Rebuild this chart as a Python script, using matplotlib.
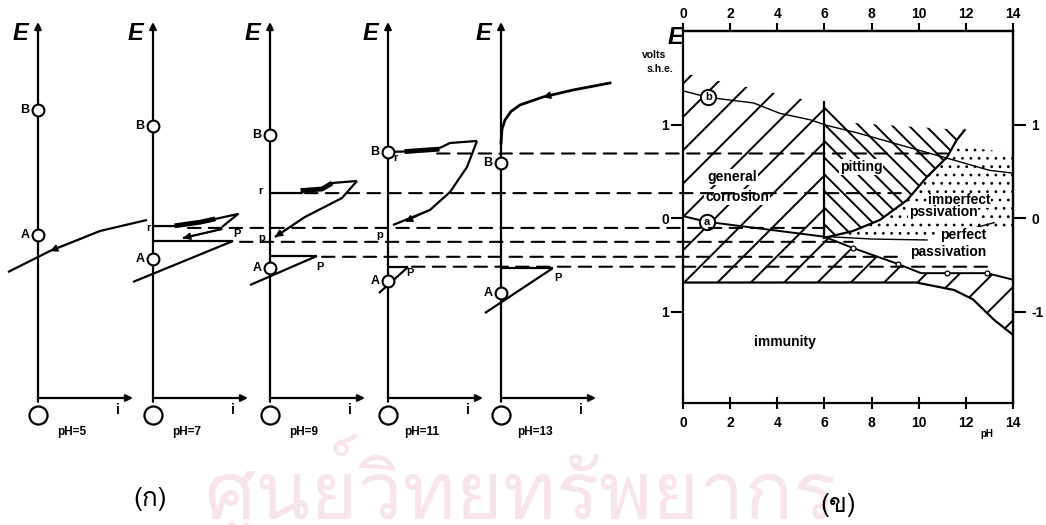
import matplotlib
matplotlib.use('Agg')
import matplotlib.pyplot as plt
from matplotlib.patches import Polygon, ConnectionPatch
from matplotlib import font_manager
from matplotlib.ft2font import FT2Font

W, H = 1046, 525
plt.rcParams['font.family'] = ['Liberation Sans', 'DejaVu Sans']
plt.rcParams['font.weight'] = 'bold'
plt.rcParams['hatch.linewidth'] = 1.4


def find_thai_font():
    for fe in font_manager.fontManager.ttflist:
        try:
            if 0x0E01 in FT2Font(fe.fname).get_charmap():
                return fe.name
        except Exception:
            pass
    return None


# ---------------- data: polarization curves (i arbitrary units, E volts) ----
ph_panels = [5, 7, 9, 11, 13]
E_B = [1.155, 0.984, 0.888, 0.706, 0.588]
E_A = [-0.182, -0.439, -0.535, -0.674, -0.802]

c5_i = [-0.30, 0.0, 0.12, 0.62, 1.09]
c5_E = [-0.578, -0.417, -0.353, -0.139, -0.021]

c7_cath_i = [-0.20, 0.80]
c7_cath_E = [-0.684, -0.246]
c7_pass_i = [0.0, 0.80]
c7_pass_E = [-0.246, -0.246]
c7_top_i = [0.0, 0.24, 0.47, 0.62, 0.85, 0.69]
c7_top_E = [-0.086, -0.086, -0.043, -0.011, 0.043, -0.096]
c7_pit_i = [0.24, 0.47, 0.60]
c7_pit_E = [-0.080, -0.045, -0.015]
c7_back_i = [0.69, 0.30]
c7_back_E = [-0.118, -0.214]

c9_cath_i = [-0.20, 0.47]
c9_cath_E = [-0.717, -0.406]
c9_pass_i = [0.0, 0.47]
c9_pass_E = [-0.406, -0.406]
c9_top_i = [0.0, 0.32, 0.33, 0.52, 0.62, 0.87]
c9_top_E = [0.267, 0.267, 0.295, 0.31, 0.374, 0.396]
c9_pit_i = [0.33, 0.52, 0.60]
c9_pit_E = [0.295, 0.31, 0.36]
c9_back_i = [0.87, 0.72, 0.35, 0.05]
c9_back_E = [0.396, 0.214, 0.011, -0.203]

c11_cath_i = [-0.09, 0.20]
c11_cath_E = [-0.802, -0.524]
c11_pass_i = [0.0, 0.20]
c11_pass_E = [-0.524, -0.524]
c11_top_i = [0.0, 0.19, 0.49, 0.62, 0.89]
c11_top_E = [0.706, 0.712, 0.735, 0.802, 0.824]
c11_pit_i = [0.19, 0.49]
c11_pit_E = [0.712, 0.735]
c11_back_i = [0.89, 0.79, 0.62, 0.42, 0.05]
c11_back_E = [0.824, 0.545, 0.278, 0.086, -0.075]

c13_cath_i = [-0.16, 0.52]
c13_cath_E = [-1.016, -0.535]
c13_pass_i = [0.0, 0.52]
c13_pass_E = [-0.535, -0.535]
c13_top_i = [0.0, 0.01, 0.04, 0.10, 0.19, 0.42, 0.72, 1.09]
c13_top_E = [0.80, 0.95, 1.048, 1.14, 1.209, 1.294, 1.369, 1.444]

# projection lines: potential, panel index, start i, end pH
dash_E = [0.69, 0.266, -0.106, -0.255, -0.415, -0.521]
dash_panel = [3, 2, 1, 1, 2, 3]
dash_i0 = [0.49, 0.35, 0.35, 0.87, 0.52, 0.24]
dash_ph1 = [11.2, 9.4, 6.0, 7.2, 9.1, 13.0]

# ---------------- data: Pourbaix-type diagram (pH, E) ----------------------
corr_ph = [0, 6, 6, 7.2, 9.1, 10.1, 12.9, 14, 14, 13.2, 12.3, 11.5, 9.9, 0]
corr_E = [1.55, 1.22, -0.20, -0.32, -0.49, -0.59, -0.59, -0.66, -1.25,
          -1.09, -0.87, -0.77, -0.69, -0.69]
pit_curve_ph = [6.0, 6.2, 7.2, 8.36, 9.5, 10.35, 11.2, 11.6, 11.95]
pit_curve_E = [-0.21, -0.20, -0.14, -0.02, 0.19, 0.44, 0.65, 0.83, 0.94]
pit_top_ph = [6.0, 7.0]
pit_top_E = [1.24, 1.02]
dot_edge_ph = [12.3, 14, 14, 12.5, 10.3, 7.5]
dot_edge_E = [0.75, 0.69, -0.12, -0.17, -0.235, -0.22]
low_ph = [0, 1.0, 6.0, 7.2, 9.1, 10.1, 11.2, 12.9, 14]
low_E = [0.02, -0.04, -0.20, -0.32, -0.49, -0.59, -0.59, -0.59, -0.66]
bot_ph = [0, 9.9, 11.5, 12.3, 13.2, 14]
bot_E = [-0.69, -0.69, -0.77, -0.87, -1.09, -1.25]
line_b_ph = [0, 1.07, 3.0, 4.1, 5.4, 6.1, 7.4, 11.2, 13.0, 14]
line_b_E = [1.36, 1.29, 1.23, 1.12, 1.05, 0.99, 0.91, 0.64, 0.51, 0.48]
pts_ph = [7.2, 9.1, 11.2, 12.9]
pts_E = [-0.32, -0.49, -0.59, -0.59]
perf_ph = [6.2, 8.0, 10.35]
perf_E = [-0.20, -0.225, -0.235]

region_labels = ['general', 'corrosion', 'pitting', 'imperfect', 'pssivation',
                 'perfect', 'passivation', 'immunity']
region_ph = [2.08, 2.29, 7.55, 11.71, 11.03, 11.88, 11.24, 4.33]
region_E = [0.44, 0.225, 0.545, 0.19, 0.064, -0.18, -0.36, -1.33]

# ---------------- layout ----------------------------------------------------
E0_PX, PX_PER_V = 218, 93.5
axis_px = [38, 153, 270, 388, 501]


def rect(x0, y0, x1, y1):
    return [x0 / W, 1 - y1 / H, (x1 - x0) / W, (y1 - y0) / H]


fig = plt.figure(figsize=(W / 100, H / 100), dpi=100)
fig.patch.set_facecolor('white')

thai = find_thai_font()
if thai:
    fig.text(520 / W, 1 - 519 / H, 'ศูนย์วิทยทรัพยากร', family=[thai],
             fontsize=58, color='#f8e4eb', ha='center', va='baseline',
             zorder=-5, weight='normal')

k = dict(color='k', lw=1.6, solid_capstyle='butt')
lab = dict(fontsize=8, weight='bold', ha='center', va='center')


def arrowhead(ax, x0, y0, x1, y1):
    ax.annotate('', xy=(x1, y1), xytext=(x0, y0),
                arrowprops=dict(arrowstyle='-|>', color='k', lw=1,
                                mutation_scale=11, shrinkA=0, shrinkB=0))


panels = []
for n, (ph, ax_x) in enumerate(zip(ph_panels, axis_px)):
    ax = fig.add_axes(rect(ax_x - 40, 0, ax_x + 115, H))
    ax.set_xlim(-0.40, 1.15)
    ax.set_ylim((E0_PX - H) / PX_PER_V, E0_PX / PX_PER_V)
    ax.axis('off')
    ax.patch.set_alpha(0)
    e_axis = (E0_PX - 398) / PX_PER_V
    ax.annotate('', xy=(0, (E0_PX - 22) / PX_PER_V), xytext=(0, e_axis - 0.04),
                arrowprops=dict(arrowstyle='-|>', color='k', lw=1.6,
                                mutation_scale=10, shrinkA=0, shrinkB=0))
    ax.annotate('', xy=(0.95, e_axis), xytext=(0, e_axis),
                arrowprops=dict(arrowstyle='-|>', color='k', lw=1.6,
                                mutation_scale=10, shrinkA=0, shrinkB=0))
    ax.plot([0], [(E0_PX - 415) / PX_PER_V], 'o', ms=13, mfc='white',
            mec='k', mew=1.6, zorder=5)
    ax.text(0.80, (E0_PX - 410) / PX_PER_V, 'i', fontsize=10, weight='bold',
            ha='center', va='center')
    ax.text(0.34, (E0_PX - 432) / PX_PER_V, 'pH=%d' % ph, fontsize=8.5,
            weight='bold', ha='center', va='center')
    ax.text(-0.18, (E0_PX - 33) / PX_PER_V, 'E', fontsize=17, weight='bold',
            style='italic', ha='center', va='center')
    ax.plot([0], [E_B[n]], 'o', ms=8.5, mfc='white', mec='k', mew=1.5, zorder=6)
    ax.plot([0], [E_A[n]], 'o', ms=8.5, mfc='white', mec='k', mew=1.5, zorder=6)
    ax.text(-0.13, E_B[n], 'B', fontsize=9, weight='bold', ha='center', va='center')
    ax.text(-0.13, E_A[n], 'A', fontsize=9, weight='bold', ha='center', va='center')
    panels.append(ax)

# pH 5
ax = panels[0]
ax.plot(c5_i, c5_E, **k)
arrowhead(ax, c5_i[3], c5_E[3], c5_i[2], c5_E[2])

# pH 7
ax = panels[1]
ax.plot(c7_cath_i, c7_cath_E, **k)
ax.plot(c7_pass_i, c7_pass_E, **k)
ax.plot(c7_top_i, c7_top_E, **k)
ax.plot(c7_pit_i, c7_pit_E, color='k', lw=3.5)
ax.plot(c7_back_i, c7_back_E, **k)
arrowhead(ax, c7_back_i[0], c7_back_E[0], c7_back_i[1], c7_back_E[1])
ax.text(-0.05, -0.107, 'r', **lab)
ax.text(0.84, -0.17, 'P', **lab)

# pH 9
ax = panels[2]
ax.plot(c9_cath_i, c9_cath_E, **k)
ax.plot(c9_pass_i, c9_pass_E, **k)
ax.plot(c9_top_i, c9_top_E, **k)
ax.plot(c9_pit_i, c9_pit_E, color='k', lw=3.5)
ax.plot(c9_back_i, c9_back_E, **k)
arrowhead(ax, c9_back_i[2], c9_back_E[2], c9_back_i[3], c9_back_E[3])
ax.text(-0.10, 0.289, 'r', **lab)
ax.text(-0.08, -0.214, 'p', **lab)
ax.text(0.50, -0.524, 'P', **lab)

# pH 11
ax = panels[3]
ax.plot(c11_cath_i, c11_cath_E, **k)
ax.plot(c11_pass_i, c11_pass_E, **k)
ax.plot(c11_top_i, c11_top_E, **k)
ax.plot(c11_pit_i, c11_pit_E, color='k', lw=3.5)
ax.plot(c11_back_i, c11_back_E, **k)
arrowhead(ax, c11_back_i[3], c11_back_E[3], c11_back_i[4] + 0.12, c11_back_E[4] + 0.035)
ax.text(0.07, 0.64, 'r', **lab)
ax.text(-0.08, -0.18, 'p', **lab)
ax.text(0.22, -0.59, 'P', **lab)

# pH 13
ax = panels[4]
ax.plot(c13_cath_i, c13_cath_E, **k)
ax.plot(c13_pass_i, c13_pass_E, **k)
ax.plot(c13_top_i, c13_top_E, color='k', lw=2)
arrowhead(ax, c13_top_i[6], c13_top_E[6], c13_top_i[5], c13_top_E[5])
ax.text(0.57, -0.64, 'P', **lab)

# ---------------- Pourbaix diagram -----------------------------------------
pb = fig.add_axes(rect(683, 31, 1013, 403))
pb.patch.set_alpha(0)
pb.set_xlim(0, 14)
pb.set_ylim((E0_PX - 403) / PX_PER_V, (E0_PX - 31) / PX_PER_V)
for s in pb.spines.values():
    s.set_linewidth(1.6)

pb.add_patch(Polygon(list(zip(corr_ph, corr_E)), closed=True, facecolor='none',
                     edgecolor='k', lw=0, hatch='/', zorder=1))
pit_poly = list(zip(pit_top_ph, pit_top_E)) + list(zip(pit_curve_ph, pit_curve_E))[::-1]
pb.add_patch(Polygon(pit_poly, closed=True, facecolor='none', edgecolor='k',
                     lw=0, hatch='\\\\', zorder=1))
dot_poly = list(zip(pit_curve_ph[1:8], pit_curve_E[1:8])) + list(zip(dot_edge_ph, dot_edge_E))
with plt.rc_context({'hatch.linewidth': 0.8}):
    dots = Polygon(dot_poly, closed=True, facecolor='none', edgecolor='k',
                   lw=0, hatch='..', zorder=1)
pb.add_patch(dots)

pb.plot([6, 6], [pit_top_E[0], pit_curve_E[0]], color='k', lw=1.6, zorder=3)
pb.plot(pit_curve_ph, pit_curve_E, color='k', lw=1.6, zorder=3)
pb.plot(low_ph, low_E, color='k', lw=1.4, zorder=3)
pb.plot(bot_ph, bot_E, color='k', lw=1.6, zorder=3)
pb.plot(line_b_ph, line_b_E, color='k', lw=1.0, zorder=3)
pb.plot(perf_ph, perf_E, color='k', lw=1.0, zorder=3)
pb.plot([12.3, 13.2], [-0.11, -0.05], color='k', lw=1.0, zorder=3)
pb.plot(pts_ph, pts_E, 'o', ms=3.5, mfc='white', mec='k', mew=0.9, zorder=4)

for name, x, y in [('b', line_b_ph[1], line_b_E[1]), ('a', low_ph[1], low_E[1])]:
    pb.plot([x], [y], 'o', ms=11, mfc='white', mec='k', mew=1.4, zorder=5)
    pb.text(x, y, name, fontsize=8, weight='bold', ha='center', va='center', zorder=6)

for t, x, y in zip(region_labels, region_ph, region_E):
    pb.text(x, y, t, fontsize=10, weight='bold', ha='center', va='center', zorder=6,
            bbox=dict(fc='white', ec='none', pad=0.5))

ticks_ph = [0, 2, 4, 6, 8, 10, 12, 14]
ticks_E = [1, 0, -1]
left_labels = ['1', '0', '1']
right_labels = ['1', '0', '-1']

pb.set_xticks(ticks_ph, [str(v) for v in ticks_ph])
pb.set_yticks(ticks_E, left_labels)
pb.tick_params(axis='x', direction='inout', length=9, width=1.5, pad=5, labelsize=10)
pb.tick_params(axis='y', direction='out', length=9, width=1.5, pad=1, labelsize=10)
top = pb.secondary_xaxis('top')
top.set_xticks(ticks_ph, [str(v) for v in ticks_ph])
top.tick_params(direction='out', length=6, width=1.5, pad=1, labelsize=10)
right = pb.secondary_yaxis('right')
right.set_yticks(ticks_E, right_labels)
right.tick_params(direction='out', length=9, width=1.5, pad=4, labelsize=10)
for ax2 in (top, right):
    for s in ax2.spines.values():
        s.set_linewidth(1.6)

pb.text(12.9, (E0_PX - 434) / PX_PER_V, 'pH', fontsize=7, weight='bold',
        ha='center', va='center', clip_on=False)
fig.text(675 / W, 1 - 38 / H, 'E', fontsize=17, weight='bold', style='italic',
         ha='center', va='center')
fig.text(654 / W, 1 - 55 / H, 'volts', fontsize=7.5, weight='bold', ha='center', va='center')
fig.text(660 / W, 1 - 69 / H, 's.h.e.', fontsize=7.5, weight='bold', ha='center', va='center')

# projection dashed lines
for e, p, i0, ph1 in zip(dash_E, dash_panel, dash_i0, dash_ph1):
    con = ConnectionPatch(xyA=(i0, e), coordsA=panels[p].transData,
                          xyB=(ph1, e), coordsB=pb.transData,
                          color='k', lw=1.5, linestyle=(0, (6, 4)), zorder=2)
    fig.add_artist(con)

tfam = [thai] if thai else ['DejaVu Sans']
fig.text(150 / W, 1 - 499 / H, '(ก)', family=tfam, fontsize=19, weight='normal',
         ha='center', va='center')
fig.text(838 / W, 1 - 505 / H, '(ข)', family=tfam, fontsize=19, weight='normal',
         ha='center', va='center')

fig.savefig('out.png', dpi=100)
